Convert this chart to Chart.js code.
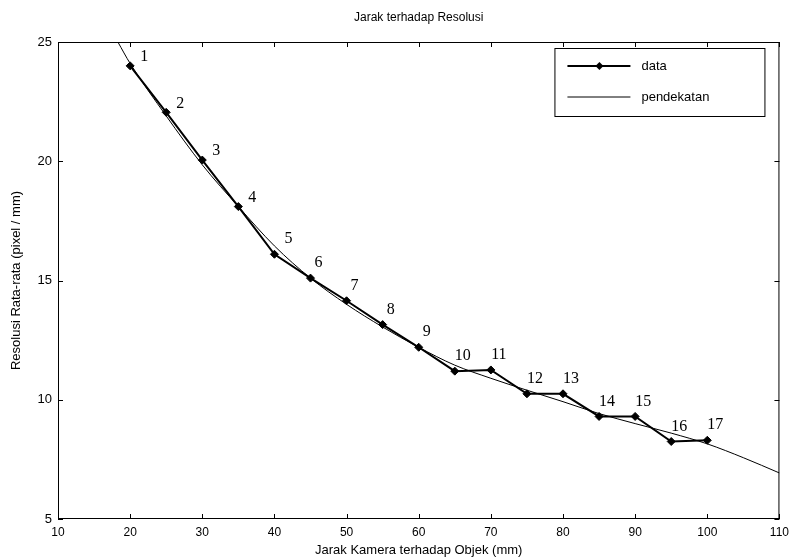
<!DOCTYPE html>
<html>
<head>
<meta charset="utf-8">
<title>Jarak terhadap Resolusi</title>
<script src="https://cdn.jsdelivr.net/npm/chart.js@4.4.1/dist/chart.umd.min.js"></script>
<style>
	html, body { margin: 0; padding: 0; background: #fff; }
	#wrap { width: 795px; height: 558px; }
</style>
</head>
<body>
<div id="wrap"><canvas id="resolusiChart"></canvas></div>
<script>
'use strict';

// Data hasil pengukuran (titik 1..17)
const jarak = [20, 25, 30, 35, 40, 45, 50, 55, 60, 65, 70, 75, 80, 85, 90, 95, 100];
const resolusi = [24, 22.05, 20.05, 18.1, 16.1, 15.1, 14.15, 13.15, 12.2, 11.2, 11.25, 10.25, 10.25, 9.3, 9.3, 8.25, 8.3];
const nomorTitik = ['1', '2', '3', '4', '5', '6', '7', '8', '9', '10', '11', '12', '13', '14', '15', '16', '17'];

// Kurva pendekatan
const jarakPendekatan = [18.3, 20, 25, 30, 35, 40, 45, 50, 55, 60, 65, 70, 75, 80, 85, 90, 95, 100, 105, 110];
const resolusiPendekatan = [25, 24.1, 21.9, 19.85, 18.1, 16.45, 15.1, 14.0, 13.05, 12.2, 11.45, 10.9, 10.4, 9.92, 9.42, 9.0, 8.6, 8.15, 7.57, 6.93];

// Tick
const xTicks = [10, 20, 30, 40, 50, 60, 70, 80, 90, 100, 110];
const yTicks = [5, 10, 15, 20, 25];

const legendItems = ['data', 'pendekatan'];

const toPoints = (xs, ys) => xs.map((x, i) => ({ x: x, y: ys[i] }));

/**
 * Frame, inward ticks, point numbers and legend (MATLAB look)
 */
const matlabFrame = {
	id: 'matlabFrame',
	afterDatasetsDraw: function(chart) {
		const ctx = chart.ctx;
		const area = chart.chartArea;
		const xs = chart.scales.x;
		const ys = chart.scales.y;
		const tick = 5;

		ctx.save();
		ctx.strokeStyle = '#000';
		ctx.lineWidth = 1;
		ctx.strokeRect(area.left + 0.5, area.top + 0.5, area.right - area.left - 1, area.bottom - area.top - 1);

		ctx.beginPath();
		xTicks.forEach(function(v) {
			const px = Math.round(xs.getPixelForValue(v)) + 0.5;
			ctx.moveTo(px, area.bottom);
			ctx.lineTo(px, area.bottom - tick);
			ctx.moveTo(px, area.top);
			ctx.lineTo(px, area.top + tick);
		});
		yTicks.forEach(function(v) {
			const py = Math.round(ys.getPixelForValue(v)) + 0.5;
			ctx.moveTo(area.left, py);
			ctx.lineTo(area.left + tick, py);
			ctx.moveTo(area.right, py);
			ctx.lineTo(area.right - tick, py);
		});
		ctx.stroke();

		// nomor titik
		ctx.fillStyle = '#000';
		ctx.font = '16px "Liberation Serif", serif';
		ctx.textAlign = 'center';
		ctx.textBaseline = 'middle';
		const meta = chart.getDatasetMeta(1);
		meta.data.forEach(function(pt, i) {
			const dx = i < 5 ? 14 : 8;
			const dy = i < 4 ? -9 : -15;
			ctx.fillText(nomorTitik[i], pt.x + dx, pt.y + dy);
		});

		// legend
		const lx = area.right - 225, ly = area.top + 6, lw = 210, lh = 68;
		ctx.fillStyle = '#fff';
		ctx.fillRect(lx, ly, lw, lh);
		ctx.strokeStyle = '#000';
		ctx.lineWidth = 1;
		ctx.strokeRect(lx + 0.5, ly + 0.5, lw, lh);

		const rows = [ly + 18, ly + 49];
		ctx.font = '13px "Liberation Sans", Arial, sans-serif';
		ctx.textAlign = 'left';
		ctx.fillStyle = '#000';
		legendItems.forEach(function(label, i) {
			ctx.beginPath();
			ctx.lineWidth = i === 0 ? 2 : 1;
			ctx.moveTo(lx + 13, rows[i]);
			ctx.lineTo(lx + 76, rows[i]);
			ctx.stroke();
			if (i === 0) {
				const cx = lx + 45, cy = rows[i];
				ctx.beginPath();
				ctx.moveTo(cx, cy - 4);
				ctx.lineTo(cx + 4, cy);
				ctx.lineTo(cx, cy + 4);
				ctx.lineTo(cx - 4, cy);
				ctx.closePath();
				ctx.fill();
			}
			ctx.fillText(label, lx + 87, rows[i]);
		});
		ctx.restore();
	}
};

const ctx = document.getElementById('resolusiChart').getContext('2d');

new Chart(ctx, {
	type: 'line',
	data: {
		datasets: [{
			label: 'pendekatan',
			data: toPoints(jarakPendekatan, resolusiPendekatan),
			borderColor: '#000',
			borderWidth: 1,
			pointRadius: 0,
			cubicInterpolationMode: 'monotone',
			fill: false
		}, {
			label: 'data',
			data: toPoints(jarak, resolusi),
			borderColor: '#000',
			backgroundColor: '#000',
			borderWidth: 2,
			pointStyle: 'rectRot',
			pointRadius: 4,
			pointBorderWidth: 1,
			tension: 0,
			fill: false
		}]
	},
	options: {
		responsive: true,
		maintainAspectRatio: false,
		animation: false,
		layout: {
			padding: { left: 0, right: 14, top: 0, bottom: 0 }
		},
		plugins: {
			legend: { display: false },
			tooltip: { enabled: false },
			title: {
				display: true,
				fullSize: false,
				text: 'Jarak terhadap Resolusi',
				color: '#000',
				font: { family: '"Liberation Sans", Arial, sans-serif', size: 12, weight: 'normal' },
				padding: { top: 10, bottom: 17.6 }
			}
		},
		scales: {
			x: {
				type: 'linear',
				min: 10,
				max: 110,
				afterBuildTicks: function(scale) {
					scale.ticks = xTicks.map(v => ({ value: v }));
				},
				afterFit: function(scale) {
					scale.height = 39;
				},
				grid: { display: false, drawTicks: false },
				border: { display: false },
				ticks: {
					color: '#000',
					padding: 6,
					maxRotation: 0,
					font: { family: '"Liberation Sans", Arial, sans-serif', size: 12 }
				},
				title: {
					display: true,
					text: 'Jarak Kamera terhadap Objek (mm)',
					color: '#000',
					font: { family: '"Liberation Sans", Arial, sans-serif', size: 13 },
					padding: { top: 2, bottom: 0 }
				}
			},
			y: {
				type: 'linear',
				min: 5,
				max: 25,
				afterBuildTicks: function(scale) {
					scale.ticks = yTicks.map(v => ({ value: v }));
				},
				afterFit: function(scale) {
					scale.width = 58;
				},
				grid: { display: false, drawTicks: false },
				border: { display: false },
				ticks: {
					color: '#000',
					padding: 6,
					font: { family: '"Liberation Sans", Arial, sans-serif', size: 13 }
				},
				title: {
					display: true,
					text: 'Resolusi Rata-rata (pixel / mm)',
					color: '#000',
					font: { family: '"Liberation Sans", Arial, sans-serif', size: 13 },
					padding: { top: 9, bottom: 0 }
				}
			}
		}
	},
	plugins: [matlabFrame]
});
</script>
</body>
</html>
